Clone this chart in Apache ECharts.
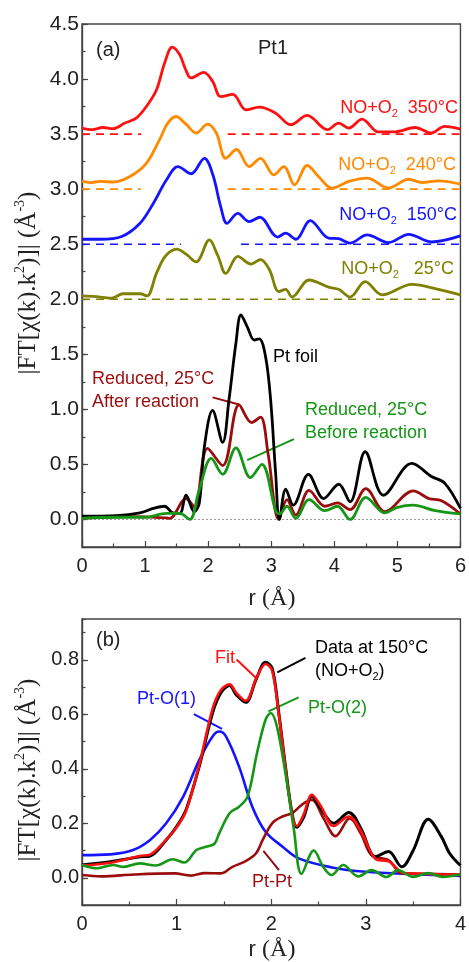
<!DOCTYPE html>
<html>
<head>
<meta charset="utf-8">
<script src="https://cdn.jsdelivr.net/npm/echarts@6/dist/echarts.min.js"></script>
<style>
  html, body { margin: 0; padding: 0; background: #fff; }
  #chart { width: 469px; height: 962px; }
</style>
</head>
<body>
<div id="chart"></div>
<script>
// ---------- Panel (a): |FT| spectra of Pt1 under NO+O2, offset curves ----------
const xTicksA = [0, 1, 2, 3, 4, 5, 6];
const yTicksA = [0, 0.5, 1, 1.5, 2, 2.5, 3, 3.5, 4, 4.5];

const noO2_350 = [[0,3.555],[0.16,3.54],[0.33,3.56],[0.49,3.55],[0.68,3.6],[0.86,3.645],[1.02,3.75],[1.18,3.9],[1.31,4.145],[1.43,4.29],[1.55,4.22],[1.64,4.09],[1.73,4.01],[1.93,4.06],[2.07,3.98],[2.2,3.84],[2.39,3.86],[2.6,3.72],[2.81,3.745],[3.07,3.69],[3.31,3.585],[3.57,3.67],[3.89,3.54],[4.07,3.6],[4.23,3.555],[4.44,3.636],[4.7,3.52],[4.96,3.52],[5.28,3.56],[5.54,3.51],[5.75,3.57],[6,3.545]];
const noO2_240 = [[0,3.07],[0.13,3.06],[0.29,3.07],[0.5,3.065],[0.76,3.115],[1.02,3.235],[1.23,3.45],[1.36,3.6],[1.49,3.66],[1.65,3.59],[1.81,3.51],[1.99,3.59],[2.13,3.51],[2.28,3.28],[2.45,3.36],[2.65,3.205],[2.83,3.28],[3.04,3.13],[3.2,3.205],[3.37,3.04],[3.57,3.215],[3.75,3.115],[3.96,3.01],[4.23,3.07],[4.52,3.1],[4.86,3.01],[5.18,3.09],[5.39,3.06],[5.65,3.075],[6,3.045]];
const noO2_150 = [[0,2.545],[0.29,2.545],[0.63,2.57],[0.92,2.69],[1.13,2.87],[1.34,3.085],[1.52,3.205],[1.73,3.14],[1.94,3.28],[2.07,3.14],[2.2,2.84],[2.3,2.69],[2.47,2.78],[2.65,2.705],[2.82,2.745],[3.1,2.565],[3.23,2.6],[3.39,2.545],[3.62,2.715],[3.91,2.555],[4.07,2.55],[4.25,2.51],[4.52,2.585],[4.86,2.515],[5.18,2.59],[5.54,2.52],[6,2.575]];
const noO2_25 = [[0,2.03],[0.29,2.02],[0.47,2.01],[0.65,2.05],[0.92,2.05],[1.03,2.03],[1.18,2.235],[1.32,2.39],[1.5,2.455],[1.65,2.41],[1.81,2.34],[2.02,2.54],[2.15,2.4],[2.28,2.235],[2.47,2.39],[2.68,2.32],[2.83,2.36],[2.97,2.27],[3.12,2.07],[3.23,2.09],[3.33,2.02],[3.6,2.175],[3.91,2.11],[4.07,2.09],[4.25,2.02],[4.49,2.16],[4.76,2.04],[5.23,2.135],[5.65,2.09],[6,2.04]];
const ptFoil = [[0,0.03],[0.55,0.035],[0.92,0.06],[1.13,0.1],[1.31,0.12],[1.44,0.06],[1.55,0.055],[1.65,0.22],[1.78,0.07],[1.86,0.15],[1.94,0.66],[2.07,0.99],[2.23,0.7],[2.33,1.085],[2.44,1.6],[2.52,1.857],[2.62,1.75],[2.73,1.63],[2.81,1.64],[2.91,1.48],[2.99,1.09],[3.07,0.42],[3.13,0.0],[3.23,0.275],[3.35,0.13],[3.59,0.41],[3.83,0.19],[4.07,0.32],[4.25,0.16],[4.49,0.615],[4.78,0.22],[5.23,0.51],[5.54,0.39],[5.75,0.33],[6,0.1]];
const reducedAfter = [[0,0.01],[0.8,0.025],[1.33,0.015],[1.39,0.01],[1.65,0.19],[1.78,0.115],[1.99,0.645],[2.23,0.49],[2.49,1.04],[2.69,0.88],[2.83,0.93],[2.95,0.6],[3.12,0.0],[3.25,0.18],[3.39,0.04],[3.6,0.265],[3.85,0.12],[4.05,0.15],[4.25,0.09],[4.5,0.28],[4.8,0.07],[5.25,0.26],[5.5,0.19],[5.7,0.17],[6,0.05]];
const reducedBefore = [[0,0.01],[0.5,0.02],[1.0,0.02],[1.34,0.055],[1.55,0.055],[1.71,0.0],[1.85,0.25],[2.05,0.555],[2.23,0.41],[2.44,0.65],[2.67,0.38],[2.85,0.5],[3.07,0.08],[3.13,0.05],[3.25,0.12],[3.39,0.01],[3.6,0.18],[3.85,0.08],[4.05,0.12],[4.25,0.0],[4.5,0.2],[4.8,0.06],[5.0,0.11],[5.25,0.13],[5.6,0.08],[6,0.05]];

// offset baselines (value, segments of r where the dash is drawn)
const baseLevels = [3.5, 3.0, 2.5, 2.0];
const baseSegments = [
  [[0, 0.94], [2.31, 6]],
  [[0, 0.93], [2.31, 6]],
  [[0, 1.57], [2.52, 6]],
  [[0, 6]]
];

// ---------- Panel (b): fit of the 150 °C spectrum ----------
const xTicksB = [0, 1, 2, 3, 4];
const yTicksB = [0, 0.2, 0.4, 0.6, 0.8];

const data150 = [[0,0.047],[0.3,0.059],[0.61,0.077],[0.72,0.08],[0.89,0.139],[1.0,0.188],[1.1,0.25],[1.24,0.41],[1.38,0.605],[1.47,0.68],[1.56,0.706],[1.63,0.672],[1.73,0.644],[1.84,0.728],[1.94,0.791],[2.01,0.77],[2.08,0.605],[2.15,0.41],[2.22,0.237],[2.27,0.185],[2.34,0.22],[2.43,0.298],[2.53,0.25],[2.66,0.2],[2.82,0.24],[2.95,0.18],[3.1,0.077],[3.24,0.096],[3.38,0.04],[3.5,0.1],[3.66,0.215],[3.8,0.15],[3.885,0.09],[4,0.045]];
const fitCurve = [[0,0.045],[0.3,0.055],[0.61,0.08],[0.72,0.085],[0.89,0.14],[1.0,0.185],[1.1,0.245],[1.24,0.415],[1.38,0.62],[1.47,0.69],[1.56,0.71],[1.63,0.68],[1.73,0.65],[1.84,0.73],[1.94,0.785],[2.01,0.76],[2.08,0.6],[2.15,0.405],[2.22,0.235],[2.27,0.19],[2.34,0.23],[2.43,0.305],[2.53,0.26],[2.66,0.19],[2.82,0.225],[2.95,0.17],[3.1,0.07],[3.24,0.06],[3.41,0.017],[3.6,0.015],[3.8,0.012],[4,0.01]];
const ptO1 = [[0,0.083],[0.3,0.086],[0.54,0.102],[0.72,0.139],[0.89,0.2],[1.07,0.298],[1.24,0.433],[1.38,0.519],[1.45,0.537],[1.52,0.52],[1.66,0.408],[1.8,0.261],[1.94,0.169],[2.12,0.114],[2.29,0.071],[2.64,0.038],[3.0,0.022],[3.52,0.013],[4,0.007]];
const ptO2 = [[0,0.047],[0.16,0.035],[0.33,0.047],[0.44,0.04],[0.61,0.053],[0.78,0.045],[0.96,0.068],[1.08,0.056],[1.21,0.102],[1.31,0.114],[1.4,0.125],[1.45,0.163],[1.56,0.237],[1.66,0.261],[1.75,0.298],[1.85,0.458],[1.94,0.58],[1.995,0.605],[2.06,0.556],[2.15,0.384],[2.24,0.176],[2.32,0.014],[2.45,0.1],[2.55,0.04],[2.64,0.01],[2.76,0.047],[2.92,0.005],[3.06,0.028],[3.22,0.003],[3.34,0.028],[3.5,0.003],[3.66,0.017],[3.81,0.003],[4,0.012]];
const ptPt = [[0,0.01],[0.2,0.005],[0.55,0.012],[0.98,0.016],[1.15,0.008],[1.3,0.017],[1.47,0.016],[1.59,0.04],[1.73,0.061],[1.84,0.09],[1.91,0.139],[2.01,0.2],[2.12,0.225],[2.22,0.237],[2.33,0.27],[2.43,0.286],[2.55,0.22],[2.68,0.153],[2.83,0.218],[2.95,0.16],[3.06,0.083],[3.24,0.065],[3.38,0.016],[3.6,0.015],[4,0.012]];

// leader lines joining labels to curves, in data coordinates
const leadersA = [
  { pts: [[2.07,1.109],[2.49,1.045]], color: '#9b0d0d' },
  { pts: [[2.62,0.539],[3.36,0.73]], color: '#169616' }
];
const leadersB = [
  { pts: [[1.634,0.801],[1.837,0.734]], color: '#ff1010' },
  { pts: [[2.064,0.754],[2.362,0.807]], color: '#000000' },
  { pts: [[1.182,0.601],[1.48,0.547]], color: '#1414ff' },
  { pts: [[1.97,0.611],[2.29,0.662]], color: '#169616' },
  { pts: [[1.917,0.099],[2.082,0.028]], color: '#8e0f0f' }
];

const C = {
  red: '#ff1010', orange: '#ff8a00', blue: '#1414ff', olive: '#808000',
  black: '#000000', wine: '#9b0d0d', green: '#169616', axis: '#444', text: '#222'
};
const SANS = '"Liberation Sans", Arial, sans-serif';
const SERIF = '"Liberation Serif", "Times New Roman", serif';

const chart = echarts.init(document.getElementById('chart'), null, { renderer: 'canvas' });

function curve(data, color, xi, yi, width) {
  return {
    type: 'line', data, xAxisIndex: xi, yAxisIndex: yi,
    smooth: 0.35, showSymbol: false, symbol: 'none', silent: true,
    lineStyle: { color, width: width || 2.8 }, z: 3
  };
}
function plainLine(data, color, xi, yi, width, type) {
  return {
    type: 'line', data, xAxisIndex: xi, yAxisIndex: yi,
    showSymbol: false, symbol: 'none', silent: true,
    lineStyle: { color, width, type: type || 'solid' }, z: 2
  };
}

const series = [];
const baseColors = [C.red, C.orange, C.blue, C.olive];
baseLevels.forEach((lvl, i) => {
  baseSegments[i].forEach(seg => {
    series.push(plainLine([[seg[0], lvl], [seg[1], lvl]], baseColors[i], 0, 0, 1.6, [8, 6]));
  });
});
series.push(plainLine([[0, 0], [6, 0]], '#999', 0, 0, 1, [2, 2]));
series.push(curve(noO2_350, C.red, 0, 0));
series.push(curve(noO2_240, C.orange, 0, 0));
series.push(curve(noO2_150, C.blue, 0, 0));
series.push(curve(noO2_25, C.olive, 0, 0));
series.push(curve(reducedAfter, C.wine, 0, 0));
series.push(curve(ptFoil, C.black, 0, 0));
series.push(curve(reducedBefore, C.green, 0, 0));
leadersA.forEach(l => series.push(plainLine(l.pts, l.color, 0, 0, 2)));

series.push(curve(ptO1, C.blue, 1, 2, 2.6));
series.push(curve(ptPt, C.wine, 1, 2, 2.6));
series.push(curve(data150, C.black, 1, 2, 3));
series.push(curve(fitCurve, C.red, 1, 2, 2.6));
series.push(curve(ptO2, C.green, 1, 2, 2.6));
leadersB.forEach(l => series.push(plainLine(l.pts, l.color, 1, 2, 2)));

function xAxisCfg(gi, ticks) {
  return {
    type: 'value', gridIndex: gi, min: ticks[0], max: ticks[ticks.length - 1], interval: 1,
    axisLine: { show: true, onZero: false, lineStyle: { color: C.axis, width: 1.4 } },
    axisTick: { show: true, inside: true, length: 6, lineStyle: { color: C.axis, width: 1.2 } },
    minorTick: { show: true, splitNumber: 2, length: 3.5, lineStyle: { color: C.axis, width: 1.2 } },
    axisLabel: { fontFamily: SANS, fontSize: 20, color: C.text, margin: 9 },
    splitLine: { show: false }
  };
}
function yMainCfg(gi, min, max, ticks, labelSize) {
  return {
    type: 'value', gridIndex: gi, min, max, position: 'left', offset: 0,
    axisLine: { show: true, onZero: false, lineStyle: { color: C.axis, width: 1.4 } },
    axisTick: { show: true, inside: true, length: 6, customValues: ticks, lineStyle: { color: C.axis, width: 1.2 } },
    axisLabel: { customValues: ticks, fontFamily: SANS, fontSize: labelSize, color: C.text, margin: 3,
      formatter: v => v.toFixed(1) },
    splitLine: { show: false }
  };
}
function yMinorCfg(gi, min, max, step) {
  return {
    type: 'value', gridIndex: gi, min, max, interval: step, position: 'left', offset: 0,
    axisLine: { show: false, onZero: false },
    axisTick: { show: true, inside: true, length: 3.5, lineStyle: { color: C.axis, width: 1.2 } },
    axisLabel: { show: false }, splitLine: { show: false }
  };
}

function rtext(x, y, text, rich, opts) {
  return {
    type: 'text', x, y, silent: true, z: 10,
    style: Object.assign({ text, rich, textAlign: 'left', textVerticalAlign: 'middle' }, opts || {})
  };
}
const lab = (color) => ({
  a: { fontFamily: SANS, fontSize: 18, fill: color, lineHeight: 22 },
  s: { fontFamily: SANS, fontSize: 11, fill: color, lineHeight: 11, verticalAlign: 'bottom' }
});
const yTitleRich = {
  n: { fontFamily: SERIF, fontSize: 25, fill: C.text, lineHeight: 30 },
  p: { fontFamily: SERIF, fontSize: 14, fill: C.text, lineHeight: 14, verticalAlign: 'top' }
};
const yTitle = '{n||FT[χ(k).k}{p|2}{n|)]| (Å}{p|-3}{n|)}';
const xTitleRich = {
  r: { fontFamily: SANS, fontSize: 22, fill: C.text },
  p: { fontFamily: SERIF, fontSize: 24, fill: C.text }
};
const xTitle = '{r|r }{p|(Å)}';

const yTitleA = rtext(28, 283, yTitle, yTitleRich, { textAlign: 'center' });
const yTitleB = rtext(28, 770, yTitle, yTitleRich, { textAlign: 'center' });
// both y-axis titles read bottom-to-top
yTitleA.rotation = Math.PI / 2;
yTitleB.rotation = Math.PI / 2;

const graphics = [
  rtext(96, 50, '{a|(a)}', { a: { fontFamily: SANS, fontSize: 20, fill: C.text } }),
  rtext(273, 48, '{a|Pt1}', { a: { fontFamily: SANS, fontSize: 20, fill: C.text } }, { textAlign: 'center' }),
  rtext(458, 108, '{a|NO+O}{s|2}{a|  350°C}', lab(C.red), { textAlign: 'right' }),
  rtext(456, 165, '{a|NO+O}{s|2}{a|  240°C}', lab(C.orange), { textAlign: 'right' }),
  rtext(457, 215, '{a|NO+O}{s|2}{a|  150°C}', lab(C.blue), { textAlign: 'right' }),
  rtext(454, 269, '{a|NO+O}{s|2}{a|   25°C}', lab(C.olive), { textAlign: 'right' }),
  rtext(273, 357, '{a|Pt foil}', lab(C.black)),
  rtext(92, 379, '{a|Reduced, 25°C}', lab(C.wine)),
  rtext(92, 402, '{a|After reaction}', lab(C.wine)),
  rtext(305, 410, '{a|Reduced, 25°C}', lab(C.green)),
  rtext(305, 433, '{a|Before reaction}', lab(C.green)),
  rtext(272, 599, xTitle, xTitleRich, { textAlign: 'center' }),
  yTitleA,

  rtext(96, 640, '{a|(b)}', { a: { fontFamily: SANS, fontSize: 20, fill: C.text } }),
  rtext(215, 658, '{a|Fit}', lab(C.red)),
  rtext(315, 648, '{a|Data at 150°C}', lab(C.black)),
  rtext(315, 671, '{a|(NO+O}{s|2}{a|)}', lab(C.black)),
  rtext(137, 699, '{a|Pt-O(1)}', lab(C.blue)),
  rtext(308, 708, '{a|Pt-O(2)}', lab(C.green)),
  rtext(252, 882, '{a|Pt-Pt}', lab(C.wine)),
  rtext(272, 950, xTitle, xTitleRich, { textAlign: 'center' }),
  yTitleB
];

chart.setOption({
  animation: false,
  backgroundColor: '#fff',
  grid: [
    { left: 82, right: 6, top: 24, height: 523, show: true, borderColor: C.axis, borderWidth: 1.4, backgroundColor: 'transparent' },
    { left: 82, right: 6, top: 619, height: 286, show: true, borderColor: C.axis, borderWidth: 1.4, backgroundColor: 'transparent' }
  ],
  xAxis: [xAxisCfg(0, xTicksA), xAxisCfg(1, xTicksB)],
  yAxis: [
    yMainCfg(0, -0.25, 4.5, yTicksA, 21),
    yMinorCfg(0, -0.25, 4.5, 0.25),
    yMainCfg(1, -0.1, 0.95, yTicksB, 20),
    yMinorCfg(1, -0.1, 0.95, 0.1)
  ],
  series,
  graphic: graphics
});
</script>
</body>
</html>
